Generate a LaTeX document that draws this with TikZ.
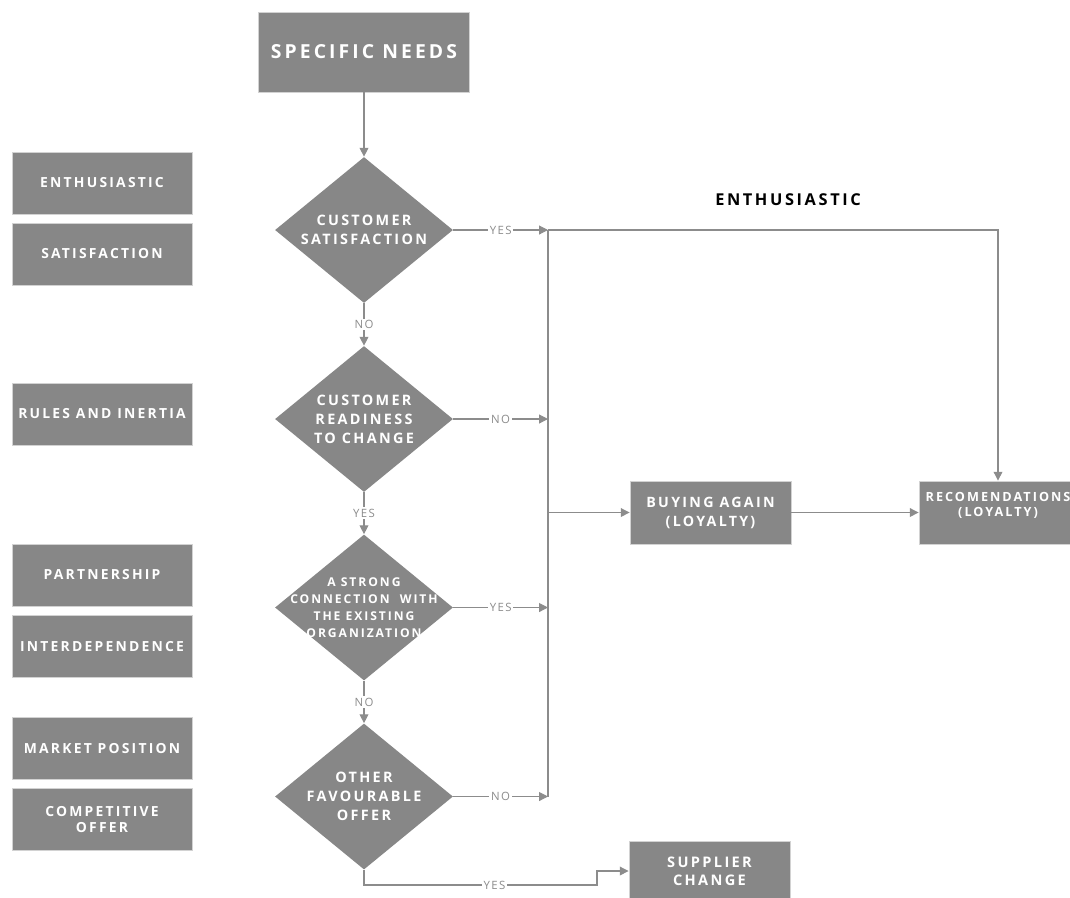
\documentclass[tikz,border=0pt]{standalone}
\usepackage{fontspec}
\setmainfont{Open Sans}
\newfontfamily\boxfont{Open Sans}[LetterSpace=16]
\newfontfamily\linkfont{Open Sans}[LetterSpace=12]
\usetikzlibrary{shapes.geometric}
\usetikzlibrary{arrows.meta}
\usetikzlibrary{positioning}

\definecolor{boxgray}{RGB}{135,135,135}
\definecolor{edgegray}{RGB}{210,210,210}
\definecolor{linegray}{RGB}{140,140,140}

\begin{document}
\begin{tikzpicture}[
  box/.style={rectangle,fill=boxgray,draw=edgegray,line width=0.5pt,text=white,align=center,inner sep=0pt,font=\boxfont\bfseries\fontsize{8.1}{10.8}\selectfont},
  side/.style={box,minimum width=3.6cm,minimum height=1.24cm,font=\boxfont\bfseries\fontsize{7.9}{9.6}\selectfont},
  decide/.style={diamond,fill=boxgray,draw=none,minimum width=3.56cm,minimum height=2.92cm,inner sep=0pt},
  dtext/.style={text=white,align=center,inner sep=0pt,font=\boxfont\bfseries\fontsize{8.2}{10.8}\selectfont},
  link/.style={draw=linegray,line width=0.6pt,-{Triangle[length=5pt,width=5pt]}},
  plain/.style={draw=linegray,line width=0.6pt},
  answer/.style={fill=white,text=linegray,inner sep=1pt,font=\linkfont\fontsize{6.5}{7.5}\selectfont}
]
\useasboundingbox (0,0) rectangle (21.4,-17.94);

\node[box,minimum width=4.22cm,minimum height=1.6cm,font=\boxfont\bfseries\fontsize{11}{13}\selectfont] (needs) at (7.28,-1.04) {SPECIFIC NEEDS};

\node[side] (enthus) at (2.04,-3.66) {ENTHUSIASTIC};
\node[side] (satisf) at (2.04,-5.08) {SATISFACTION};
\node[side] (rules) at (2.04,-8.28) {RULES AND INERTIA};
\node[side] (partner) at (2.04,-11.5) {PARTNERSHIP};
\node[side] (interdep) at (2.04,-12.93) {INTERDEPENDENCE};
\node[side] (market) at (2.04,-14.97) {MARKET POSITION};
\node[side] (compet) at (2.04,-16.39) {COMPETITIVE\\OFFER};

\node[decide,label={[dtext]center:CUSTOMER\\SATISFACTION}] (satq) at (7.28,-4.6) {};
\node[decide,label={[dtext]center:CUSTOMER\\READINESS\\TO CHANGE}] (readyq) at (7.28,-8.38) {};
\node[decide,label={[dtext,font=\boxfont\bfseries\fontsize{6.9}{9.6}\selectfont]center:A STRONG\\CONNECTION\ \ WITH\\THE EXISTING\\ORGANIZATION}] (bondq) at (7.28,-12.15) {};
\node[decide,label={[dtext]center:OTHER\\FAVOURABLE\\OFFER}] (offerq) at (7.28,-15.93) {};

\node[font=\boxfont\bfseries\fontsize{9.3}{11}\selectfont] (head) at (15.76,-4.0) {ENTHUSIASTIC};

\node[box,minimum width=3.22cm,minimum height=1.26cm] (again) at (14.21,-10.25) {BUYING AGAIN\\(LOYALTY)};
\node[box,minimum width=3.16cm,minimum height=1.26cm,label={[dtext,yshift=0.14cm,font=\boxfont\bfseries\fontsize{7.2}{8.5}\selectfont]center:RECOMENDATIONS\\(LOYALTY)}] (recom) at (19.96,-10.25) {};
\node[box,minimum width=3.22cm,minimum height=1.2cm,font=\boxfont\bfseries\fontsize{8.3}{10.2}\selectfont] (switch) at (14.19,-17.42) {SUPPLIER\\CHANGE};

\coordinate (bustop) at (10.96,-4.6);
\coordinate (busmid) at (10.96,-10.25);
\coordinate (busbot) at (10.96,-15.93);
\coordinate (turn) at (11.94,-17.7);

\draw[link] (needs) -- (satq);
\draw[link] (satq) -- node[answer]{NO} (readyq);
\draw[link] (readyq) -- node[answer]{YES} (bondq);
\draw[link] (bondq) -- node[answer]{NO} (offerq);

\draw[link] (satq.east) -- node[answer]{YES} (bustop);
\draw[link] (readyq.east) -- node[answer]{NO} (readyq.east -| bustop);
\draw[link] (bondq.east) -- node[answer]{YES} (bondq.east -| bustop);
\draw[link] (offerq.east) -- node[answer]{NO} (busbot);
\draw[plain] (bustop) -- (busbot);

\draw[link] (busmid) -- (again);
\draw[link] (again) -- (recom);
\draw[link] (bustop) -| (recom);
\draw[link] (offerq.south) |- node[answer,pos=0.78]{YES} (turn) |- (switch.west);

\end{tikzpicture}
\end{document}
